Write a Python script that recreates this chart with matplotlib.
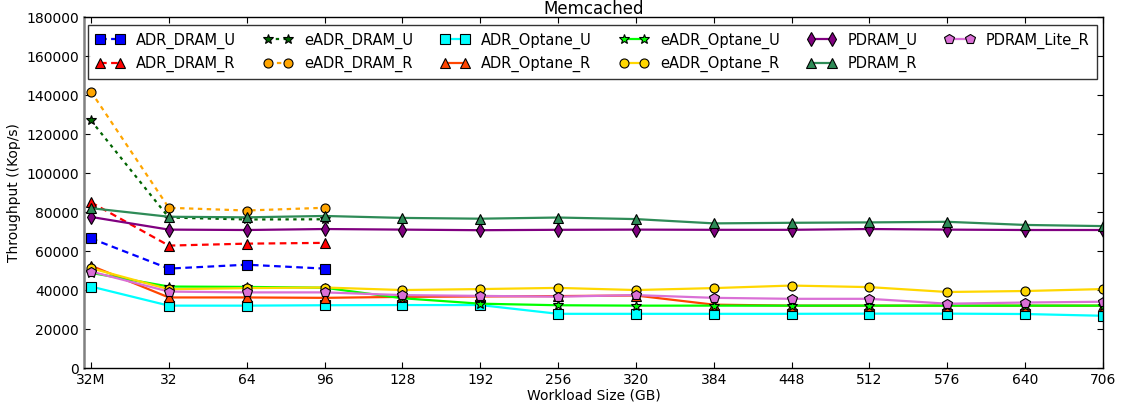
import matplotlib
matplotlib.use("Agg")
import matplotlib.pyplot as plt

x_labels = ["32M", "32", "64", "96", "128", "192", "256", "320", "384", "448", "512", "576", "640", "706"]

adr_dram_u = [66500, 51000, 53000, 51000]
adr_dram_r = [85000, 62800, 63800, 64200]
eadr_dram_u = [127000, 77200, 76200, 76300]
eadr_dram_r = [141800, 82200, 80800, 82200]
adr_optane_u = [41800, 32000, 32000, 32200, 32300, 32300, 27800, 27800, 27800, 27800, 27900, 27900, 27700, 26800]
adr_optane_r = [52500, 36200, 36200, 36000, 36500, 36700, 36900, 37200, 32500, 32000, 32000, 32000, 32000, 32000]
eadr_optane_u = [48800, 41800, 41600, 41200, 35800, 33000, 32200, 32000, 32000, 32000, 32000, 32000, 32000, 32000]
eadr_optane_r = [51200, 40400, 41000, 41300, 40000, 40500, 41100, 40000, 41000, 42300, 41500, 39000, 39500, 40500]
pdram_u = [77500, 71000, 70800, 71300, 71000, 70700, 70900, 71000, 70900, 70900, 71300, 71000, 70800, 70800]
pdram_r = [82000, 77600, 77300, 78000, 77000, 76600, 77200, 76400, 74200, 74500, 74700, 75000, 73400, 72800]
pdram_lite_r = [49500, 39200, 38800, 38800, 37400, 37000, 36600, 37400, 36000, 35500, 35500, 33000, 33600, 34000]

series = [
    ("ADR_DRAM_U", adr_dram_u, "blue", "s", (0, (3, 2))),
    ("ADR_DRAM_R", adr_dram_r, "red", "^", (0, (3, 2))),
    ("eADR_DRAM_U", eadr_dram_u, "darkgreen", "*", (0, (1.5, 2))),
    ("eADR_DRAM_R", eadr_dram_r, "orange", "o", (0, (2, 2))),
    ("ADR_Optane_U", adr_optane_u, "cyan", "s", "-"),
    ("ADR_Optane_R", adr_optane_r, "orangered", "^", "-"),
    ("eADR_Optane_U", eadr_optane_u, "lime", "*", "-"),
    ("eADR_Optane_R", eadr_optane_r, "gold", "o", "-"),
    ("PDRAM_U", pdram_u, "purple", "d", "-"),
    ("PDRAM_R", pdram_r, "seagreen", "^", "-"),
    ("PDRAM_Lite_R", pdram_lite_r, "orchid", "p", "-"),
]

msizes = {"s": 6.5, "^": 7, "*": 7.5, "o": 6.5, "d": 7.5, "p": 7}

fig = plt.figure(figsize=(11.21, 4.08), dpi=100)
ax = fig.add_axes([0.0749, 0.098, 0.909, 0.86])

for name, vals, color, mk, ls in series:
    xs = list(range(len(vals)))
    ax.plot(xs, vals, color=color, marker=mk, linestyle=ls, linewidth=1.6,
            markersize=msizes[mk], markeredgecolor="black", markeredgewidth=0.8,
            label=name)

ax.set_xlim(-0.09, 13.0)
ax.set_ylim(0, 180000)
ax.set_yticks(range(0, 180001, 20000))
ax.set_xticks(range(len(x_labels)))
ax.set_xticklabels(x_labels)
ax.tick_params(direction="in", top=True, right=True, labelsize=10, length=4)
for s in ax.spines.values():
    s.set_linewidth(1.0)
ax.spines["left"].set_color("gray")
ax.spines["left"].set_linewidth(1.8)

ax.set_title("Memcached", fontsize=12, pad=2)
ax.set_xlabel("Workload Size (GB)", fontsize=10, labelpad=1)
ax.set_ylabel("Throughput ((Kop/s)", fontsize=10)

leg = ax.legend(loc="upper left", ncol=6, fontsize=10.5, numpoints=2,
                frameon=True, fancybox=False, edgecolor="black",
                bbox_to_anchor=(0.004, 0.977, 0.990, 0.0), mode="expand",
                borderaxespad=0.0, handlelength=2.0, handletextpad=0.8,
                borderpad=0.5)
leg.get_frame().set_linewidth(1.0)

fig.savefig("out.png", dpi=100)
